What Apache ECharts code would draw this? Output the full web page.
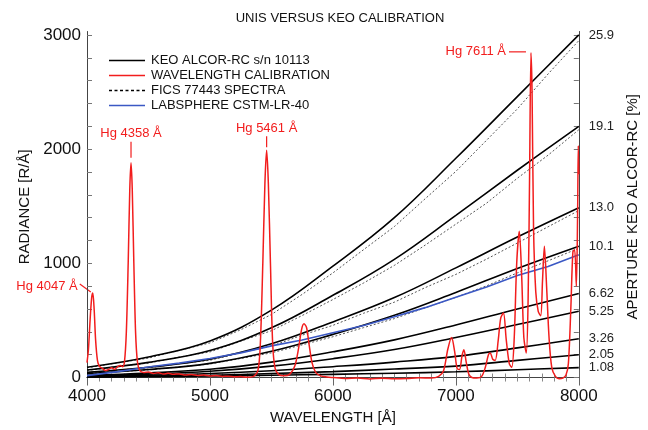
<!DOCTYPE html>
<html><head><meta charset="utf-8">
<script src="https://cdn.jsdelivr.net/npm/echarts@6/dist/echarts.min.js"></script>
<style>html,body{margin:0;padding:0;background:#fff}#c{width:648px;height:430px}</style>
</head><body><div id="c"></div>
<script>
// ---------------- DATA ----------------
const titleText = 'UNIS VERSUS KEO CALIBRATION';
const xTicks = [4000, 5000, 6000, 7000, 8000];
const yTicks = [0, 1000, 2000, 3000];

// KEO ALCOR-RC lines (sampled every 500 Å)
const keoWavelength = [4000, 4500, 5000, 5500, 6000, 6500, 7000, 7500, 8000];
const keo_25_9 = [90, 180, 320, 590, 975, 1400, 1920, 2460, 3000];
const keo_19_1 = [66, 133, 236, 435, 720, 1035, 1420, 1815, 2200];
const keo_13_0 = [45, 90, 160, 295, 487, 700, 960, 1230, 1487];
const keo_10_1 = [35, 70, 124, 230, 378, 545, 745, 955, 1150];
const keo_6_62 = [20, 40, 72, 135, 225, 330, 460, 600, 735];
const keo_5_25 = [15, 30, 55, 100, 165, 245, 350, 465, 580];
const keo_3_26 = [10, 20, 35, 60, 95, 135, 185, 260, 340];
const keo_2_05 = [6, 12, 20, 35, 52, 75, 100, 150, 200];
const keo_1_08 = [4, 8, 13, 20, 28, 38, 50, 68, 87];
const apertureLabels = ['25.9', '19.1', '13.0', '10.1', '6.62', '5.25', '3.26', '2.05', '1.08'];

// FICS 77443 spectra (sampled every 250 Å)
const ficsWavelength = [4000,4250,4500,4750,5000,5250,5500,5750,6000,6250,6500,6750,7000,7250,7500,7750,8000];
const fics_25_9 = [85, 128, 170, 238, 303, 418, 552, 728, 916, 1120, 1322, 1565, 1805, 2078, 2352, 2658, 2950];
const fics_19_1 = [62, 97, 126, 179, 224, 318, 410, 543, 683, 828, 982, 1159, 1343, 1527, 1745, 1947, 2170];
const fics_13_0 = [42, 66, 85, 121, 151, 217, 275, 371, 457, 563, 660, 787, 903, 1037, 1178, 1320, 1462];
const fics_10_1 = [33, 51, 67, 93, 118, 167, 216, 286, 357, 437, 516, 610, 702, 803, 916, 1022, 1132];

// LABSPHERE CSTM-LR-40 (every 250 Å)
const labsphere = [17, 52, 92, 126, 167, 216, 277, 328, 392, 456, 532, 612, 703, 792, 893, 972, 1075];

// Wavelength calibration lamp spectrum [Å, R/Å]
const calibration = [
[4000,130],[4012,250],[4025,500],[4038,700],[4047,740],[4058,600],[4070,330],[4085,150],[4100,100],[4125,80],
[4150,62],[4175,70],[4200,85],[4225,72],[4250,95],[4270,105],[4290,95],[4305,140],[4320,400],[4335,1000],
[4348,1650],[4358,1880],[4368,1650],[4381,1000],[4395,400],[4410,140],[4430,60],[4460,45],[4500,48],[4540,35],
[4580,42],[4620,30],[4660,38],[4700,28],[4750,32],[4800,22],[4850,26],[4900,18],[4950,22],[5000,14],
[5050,18],[5100,10],[5150,12],[5200,6],[5250,8],[5300,3],[5350,8],[5390,60],[5410,300],[5430,1000],
[5447,1700],[5461,1990],[5475,1700],[5492,1000],[5510,300],[5530,80],[5560,25],[5600,15],[5650,30],[5690,100],
[5720,250],[5745,420],[5765,470],[5785,440],[5805,300],[5830,130],[5860,45],[5900,15],[5950,5],[6000,0],
[6100,-8],[6200,-5],[6300,-12],[6400,-6],[6500,-10],[6600,-8],[6700,-3],[6800,-5],[6860,10],[6900,60],
[6935,250],[6965,350],[6990,230],[7010,80],[7030,70],[7050,190],[7065,243],[7085,130],[7105,30],[7130,0],
[7170,-5],[7210,10],[7240,90],[7265,200],[7280,215],[7300,160],[7320,150],[7345,330],[7365,520],[7387,565],
[7410,330],[7435,120],[7455,90],[7475,350],[7495,1000],[7516,1280],[7535,900],[7553,350],[7573,215],[7588,700],
[7600,1800],[7611,2843],[7620,2500],[7632,1300],[7650,750],[7670,580],[7690,540],[7705,850],[7720,1150],[7738,800],
[7758,350],[7780,90],[7810,10],[7840,-10],[7870,-5],[7895,20],[7915,120],[7935,600],[7952,1100],[7966,1120],
[7980,800],[7990,1400],[7996,2030],[8000,1780]
];

// Hg line annotations
const hgLabels = ['Hg 4047 Å', 'Hg 4358 Å', 'Hg 5461 Å', 'Hg 7611 Å'];
const hgPeaks = [[4047, 740], [4358, 1880], [5461, 1990], [7611, 2843]];

// ---------------- CHART ----------------
const FONT = '"Liberation Sans", Arial, Helvetica, sans-serif';
const KEO = 'KEO ALCOR-RC s/n 10113';
const CAL = 'WAVELENGTH CALIBRATION';
const FICS = 'FICS 77443 SPECTRA';
const LAB = 'LABSPHERE CSTM-LR-40';
const C_KEO = '#000', C_CAL = '#f21d1d', C_FICS = '#555', C_LAB = '#3b58c4';

const keoLines = [keo_25_9, keo_19_1, keo_13_0, keo_10_1, keo_6_62, keo_5_25, keo_3_26, keo_2_05, keo_1_08];
const ficsLines = [fics_25_9, fics_19_1, fics_13_0, fics_10_1];
const lineEnds = keoLines.map(l => l[l.length - 1]);
const zip = (xs, ys) => xs.map((x, i) => [x, ys[i]]);

const minorY = [];
for (let v = 0; v <= 3000; v += 200) minorY.push(v);

const series = [];
ficsLines.forEach(l => series.push({
  name: FICS, type: 'line', data: zip(ficsWavelength, l), symbol: 'none',
  itemStyle: { color: '#000' },
  lineStyle: { color: C_FICS, width: 1, type: [2, 2] }, silent: true
}));
keoLines.forEach(l => series.push({
  name: KEO, type: 'line', data: zip(keoWavelength, l), symbol: 'none', smooth: 0.4,
  itemStyle: { color: C_KEO },
  lineStyle: { color: C_KEO, width: 1.6 }, silent: true
}));
series.push({
  name: LAB, type: 'line', data: zip(ficsWavelength, labsphere), symbol: 'none',
  itemStyle: { color: C_LAB },
  lineStyle: { color: C_LAB, width: 1.6 }, silent: true
});
series.push({
  name: CAL, type: 'line', data: calibration, symbol: 'none', smooth: 0.3,
  itemStyle: { color: C_CAL },
  lineStyle: { color: C_CAL, width: 1.5 }, silent: true
});

const axisCommon = {
  type: 'value', min: -40, max: 3030,
  axisLine: { show: true, lineStyle: { color: '#444', width: 1 } },
  splitLine: { show: false },
};

const solidIcon = 'path://M0,0 L36,0 L36,1.5 L0,1.5 Z';
const dashIcon = 'path://M0,0h3v1.2h-3z M5.5,0h3v1.2h-3z M11,0h3v1.2h-3z M16.5,0h3v1.2h-3z M22,0h3v1.2h-3z M27.5,0h3v1.2h-3z M33,0h3v1.2h-3z';

const chart = echarts.init(document.getElementById('c'), null, { renderer: 'canvas' });
chart.setOption({
  animation: false,
  backgroundColor: '#fff',
  title: {
    text: titleText, left: 335, top: 7, textAlign: 'center',
    textStyle: { fontFamily: FONT, fontSize: 13, fontWeight: 'normal', color: '#111' }
  },
  legend: {
    orient: 'vertical', left: 104, top: 48, itemWidth: 36, itemHeight: 1.5, itemGap: 0,
    symbolKeepAspect: false,
    textStyle: { fontFamily: FONT, fontSize: 13, color: '#111', lineHeight: 15, padding: [0, 0, 0, 1] },
    data: [
      { name: KEO, icon: solidIcon },
      { name: CAL, icon: solidIcon },
      { name: FICS, icon: dashIcon },
      { name: LAB, icon: solidIcon }
    ],
    selectedMode: false
  },
  grid: { left: 87, right: 65, top: 31.5, bottom: 45.4, containLabel: false },
  xAxis: [{
    type: 'value', min: 4000, max: 8000, interval: 1000,
    name: 'WAVELENGTH [Å]', nameLocation: 'middle', nameGap: 20,
    nameTextStyle: { fontFamily: FONT, fontSize: 15, color: '#111' },
    axisLine: { show: true, lineStyle: { color: '#444' } },
    axisTick: { inside: true, length: 8, lineStyle: { color: '#666' } },
    minorTick: { show: true, splitNumber: 10, length: 4, lineStyle: { color: '#888' } },
    axisLabel: { fontFamily: FONT, fontSize: 17, color: '#111', margin: 6, formatter: v => String(v) },
    splitLine: { show: false }
  }, {
    type: 'value', min: 4000, max: 8000, interval: 1000, position: 'top',
    axisLine: { show: true, lineStyle: { color: '#444' } },
    axisTick: { inside: true, length: 8, lineStyle: { color: '#666' } },
    minorTick: { show: true, splitNumber: 10, length: 4, lineStyle: { color: '#888' } },
    axisLabel: { show: false }, splitLine: { show: false }
  }],
  yAxis: [Object.assign({}, axisCommon, {
    position: 'left',
    name: 'RADIANCE [R/Å]', nameLocation: 'middle', nameGap: 48, nameRotate: 90,
    nameTextStyle: { fontFamily: FONT, fontSize: 15, color: '#111' },
    axisTick: { inside: true, length: 5, customValues: minorY, lineStyle: { color: '#777' } },
    axisLabel: { customValues: yTicks, fontFamily: FONT, fontSize: 17, color: '#111', margin: 6, formatter: v => String(v) }
  }), Object.assign({}, axisCommon, {
    position: 'right',
    name: 'APERTURE KEO ALCOR-RC [%]', nameLocation: 'middle', nameGap: 46, nameRotate: 90,
    nameTextStyle: { fontFamily: FONT, fontSize: 15, color: '#111' },
    axisTick: { inside: true, length: 5, customValues: minorY, lineStyle: { color: '#777' } },
    axisLabel: {
      customValues: lineEnds, fontFamily: FONT, fontSize: 13, color: '#222', margin: 10,
      formatter: v => { const i = lineEnds.indexOf(v); return i >= 0 ? apertureLabels[i] : ''; }
    }
  })],
  series: series
});

// Hg annotations placed from data coordinates of the peaks
const px = hgPeaks.map(p => chart.convertToPixel({ xAxisIndex: 0, yAxisIndex: 0 }, p));
const tStyle = (text, x, y, align) => ({
  type: 'text', x: x, y: y, silent: true,
  style: { text: text, fill: C_CAL, font: '13px ' + FONT, textAlign: align, textVerticalAlign: 'middle' }
});
const seg = (x1, y1, x2, y2) => ({
  type: 'line', silent: true, shape: { x1, y1, x2, y2 }, style: { stroke: C_CAL, lineWidth: 1.2 }
});
const g = [];
g.push(tStyle(hgLabels[0], px[0][0] - 15, px[0][1] - 7, 'right'));
g.push(seg(px[0][0] - 13, px[0][1] - 9, px[0][0] - 2, px[0][1] - 1));
g.push(tStyle(hgLabels[1], px[1][0], px[1][1] - 29, 'center'));
g.push(seg(px[1][0], px[1][1] - 21, px[1][0], px[1][1] - 5));
g.push(tStyle(hgLabels[2], px[2][0], px[2][1] - 22, 'center'));
g.push(seg(px[2][0], px[2][1] - 14, px[2][0], px[2][1] - 3));
g.push(tStyle(hgLabels[3], px[3][0] - 25, px[3][1] - 1, 'right'));
g.push(seg(px[3][0] - 22, px[3][1] - 1, px[3][0] - 5, px[3][1] - 1));
chart.setOption({ graphic: g });
</script>
</body></html>
